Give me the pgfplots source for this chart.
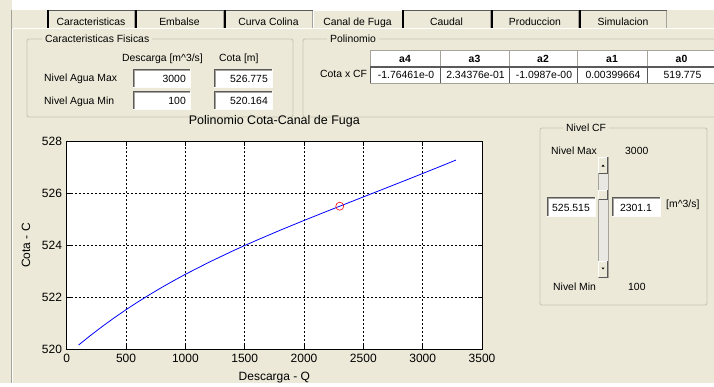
\documentclass[border=0pt]{standalone}
\usepackage{fontspec}
\setmainfont{Liberation Sans}
\usepackage{pgfplots}
\pgfplotsset{compat=1.18}

\definecolor{panel}{HTML}{ECE9D8}
\definecolor{etch}{HTML}{C9C5B2}
\definecolor{edgedark}{HTML}{5A5A5A}
\definecolor{edgemid}{HTML}{A6A39A}
\definecolor{track}{HTML}{E9E8E2}
\definecolor{curveblue}{RGB}{0,0,255}
\definecolor{markred}{RGB}{255,0,0}

\newcommand{\guifont}{\fontsize{10.4}{12}\selectfont}
\newcommand{\plotfont}{\fontsize{12}{14}\selectfont}

% inactive tab: x1, x2, caption
\newcommand{\tab}[3]{%
  \fill[panel] (#1,10) rectangle (#2,28);
  \draw[edgedark, line width=0.9pt] (#1,10.5) -- (#2,10.5);
  \draw[black, line width=1.6pt] ({#1+0.8},28) -- ({#1+0.8},10);
  \draw[edgemid, line width=0.6pt] ({#2-0.4},11) -- ({#2-0.4},28);
  \node[anchor=base, inner sep=0pt] at ({(#1+#2)/2},25) {#3};
}
% sunken edit field: x1, y1, x2, y2, text (right aligned)
\newcommand{\field}[5]{%
  \fill[white] (#1,#2) rectangle (#3,#4);
  \draw[edgedark, line width=1pt] (#1,#4) -- (#1,#2) -- (#3,#2);
  \draw[edgemid, line width=0.6pt] ({#1+1},#4) -- ({#1+1},{#2+1}) -- (#3,{#2+1});
  \draw[white!85!panel, line width=0.8pt] (#1,#4) -- (#3,#4) -- (#3,#2);
  \node[anchor=base east, inner sep=0pt] at ({#3-4},{#4-4.8}) {#5};
}
% same, text centred
\newcommand{\cfield}[5]{%
  \fill[white] (#1,#2) rectangle (#3,#4);
  \draw[edgedark, line width=1pt] (#1,#4) -- (#1,#2) -- (#3,#2);
  \draw[edgemid, line width=0.6pt] ({#1+1},#4) -- ({#1+1},{#2+1}) -- (#3,{#2+1});
  \draw[white!85!panel, line width=0.8pt] (#1,#4) -- (#3,#4) -- (#3,#2);
  \node[anchor=base, inner sep=0pt] at ({(#1+#3)/2},{#4-4.8}) {#5};
}
% group frame: x1, y1, x2, y2, caption x, caption
\newcommand{\groupbox}[6]{%
  \draw[etch, line width=0.9pt, rounded corners=2pt] (#1,#2) rectangle (#3,#4);
  \node[anchor=base west, fill=panel, inner xsep=3pt, inner ysep=1pt] at ({#5-3},{#2+3.6}) {#6};
}
% table header cell: x1, x2, caption
\newcommand{\hcell}[3]{%
  \fill[white] (#1,50) rectangle (#2,66);
  \draw[edgemid, line width=0.8pt] (#1,50) rectangle (#2,66);
  \draw[edgedark, line width=0.8pt] (#1,66) -- (#2,66) -- (#2,50);
  \node[anchor=base, inner sep=0pt] at ({(#1+#2)/2},62) {\bfseries #3};
}
% table value cell: x1, x2, text
\newcommand{\vcell}[3]{%
  \fill[white] (#1,67) rectangle (#2,83);
  \draw[edgedark, line width=0.9pt] (#1,83) -- (#1,67) -- (#2,67);
  \draw[edgemid, line width=0.6pt] (#1,83) -- (#2,83) -- (#2,67);
  \begin{scope}
    \clip (#1,67) rectangle ({#2-1},83);
    \node[anchor=base, inner sep=0pt] at ({(#1+#2)/2+1},78.5) {#3};
  \end{scope}
}

\begin{document}
\begin{tikzpicture}
\begin{scope}[x=1pt, y=-1pt, font=\guifont]
  % window background
  \fill[panel] (0,0) rectangle (714,383);
  \useasboundingbox (0,0) rectangle (714,383);
  \fill[white] (12,0) rectangle (714,9.5);
  \draw[edgemid, line width=0.8pt] (11.5,9.5) -- (11.5,383);
  \draw[white, line width=0.8pt] (12.5,28.5) -- (12.5,383);
  \draw[white, line width=0.8pt] (12.5,28.5) -- (714,28.5);

  % tab strip
  \tab{47}{135}{Caracteristicas}
  \tab{135}{224}{Embalse}
  \tab{224}{313}{Curva Colina}
  \draw[white, line width=0.8pt] (313.5,28) -- (313.5,10.5) -- (402,10.5);
  \node[anchor=base, inner sep=0pt] at (357.5,25) {Canal de Fuga};
  \tab{402}{491}{Caudal}
  \tab{491}{579}{Produccion}
  \tab{579}{667}{Simulacion}

  % physical characteristics
  \groupbox{27}{39}{293}{117}{45}{Caracteristicas Fisicas}
  \node[anchor=base west, inner sep=0pt] at (122,61.5) {Descarga [m\textasciicircum 3/s]};
  \node[anchor=base west, inner sep=0pt] at (219,61.5) {Cota [m]};
  \node[anchor=base west, inner sep=0pt] at (44,81) {Nivel Agua Max};
  \node[anchor=base west, inner sep=0pt] at (44,104.5) {Nivel Agua Min};
  \field{133}{69}{190}{87}{3000}
  \field{214}{69}{272}{87}{526.775}
  \field{133}{91}{190}{109}{100}
  \field{214}{91}{272}{109}{520.164}

  % polynomial coefficients
  \groupbox{303}{39}{730}{117}{330}{Polinomio}
  \node[anchor=base west, inner sep=0pt] at (320,77.5) {Cota x CF};
  \hcell{370}{440}{a4}
  \hcell{440}{509}{a3}
  \hcell{509}{577}{a2}
  \hcell{577}{647}{a1}
  \hcell{647}{716}{a0}
  \vcell{370}{440}{-1.76461e-0}
  \vcell{440}{509}{2.34376e-01}
  \vcell{509}{577}{-1.0987e-00}
  \vcell{577}{647}{0.00399664}
  \vcell{647}{716}{519.775}

  % level selector
  \groupbox{540}{128}{707}{305}{566}{Nivel CF}
  \node[anchor=base west, inner sep=0pt] at (551,154.5) {Nivel Max};
  \node[anchor=base west, inner sep=0pt] at (625,154.5) {3000};
  \node[anchor=base west, inner sep=0pt] at (553,290) {Nivel Min};
  \node[anchor=base west, inner sep=0pt] at (628,290) {100};
  % scroll bar
  \fill[track] (598,157) rectangle (608,277);
  \draw[edgemid, line width=0.6pt] (598,157) rectangle (608,277);
  \foreach \ya/\yb in {157/173, 261/277, 190/199}{
    \fill[panel] (598.3,\ya) rectangle (607.7,\yb);
    \draw[white, line width=0.7pt] (598.6,\yb) -- (598.6,\ya) -- (607.5,\ya);
    \draw[edgedark, line width=0.7pt] (598.6,\yb) -- (607.5,\yb) -- (607.5,\ya);
  }
  \fill[black] (601.5,166.5) -- (604.5,166.5) -- (603,164.5) -- cycle;
  \fill[black] (601.5,267.5) -- (604.5,267.5) -- (603,269.5) -- cycle;
  \cfield{547}{197}{595}{216}{525.515}
  \cfield{612}{197}{660}{216}{2301.1}
  \node[anchor=base west, inner sep=0pt] at (666,207.5) {[m\textasciicircum 3/s]};
\end{scope}

\begin{axis}[
  at={(66.7pt,-349.3pt)}, anchor=south west,
  scale only axis, width=415.3pt, height=207.6pt,
  xmin=0, xmax=3500, ymin=520, ymax=528,
  xtick={0,500,...,3500}, ytick={520,522,...,528},
  axis background/.style={fill=white},
  grid=major,
  major grid style={black, line width=0.7pt, dash pattern=on 2pt off 2pt},
  axis line style={black, line width=0.9pt},
  tick style={black, line width=0.7pt}, major tick length=4pt, tick align=inside,
  /pgf/number format/1000 sep={},
  /pgf/number format/assume math mode=true,
  ticklabel style={font=\plotfont},
  xticklabel style={inner sep=0pt, yshift=-5pt},
  yticklabel style={inner sep=0pt, xshift=-4.5pt},
  title={Polinomio Cota-Canal de Fuga},
  title style={at={(axis description cs:0.5,1.068)}, anchor=center, font=\fontsize{12.5}{14}\selectfont},
  xlabel={Descarga - Q},
  xlabel style={at={(axis description cs:0.5,-0.136)}, anchor=center, font=\plotfont},
  ylabel={Cota - C},
  ylabel style={at={(axis description cs:-0.098,0.5)}, anchor=center, font=\plotfont},
]
\addplot[curveblue, line width=0.8pt] coordinates {
  (100,520.164) (200,520.532) (300,520.881) (400,521.212) (500,521.527)
  (600,521.826) (700,522.110) (800,522.382) (900,522.641) (1000,522.890)
  (1200,523.357) (1400,523.792) (1500,524.000) (1600,524.201) (1800,524.591)
  (2000,524.966) (2200,525.332) (2400,525.693) (2600,526.052) (2800,526.412)
  (3000,526.775) (3200,527.143) (3280,527.292)
};
\addplot[only marks, mark=o, mark size=4pt, markred, line width=0.6pt] coordinates {
  (2301.1,525.515)
};
\end{axis}
\end{tikzpicture}
\end{document}
